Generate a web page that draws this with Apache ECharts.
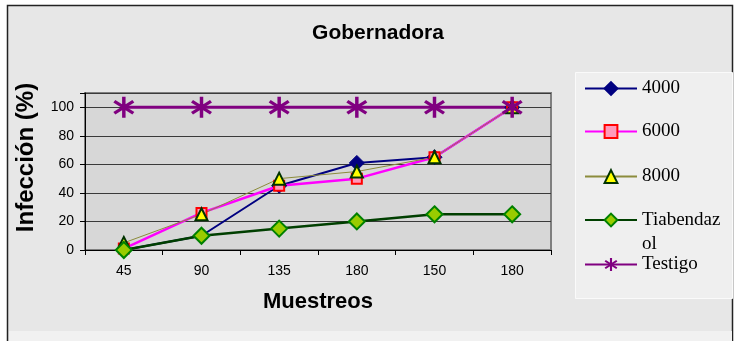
<!DOCTYPE html>
<html>
<head>
<meta charset="utf-8">
<script src="https://cdn.jsdelivr.net/npm/echarts@6/dist/echarts.min.js"></script>
<style>
  html, body { margin: 0; padding: 0; background: #ffffff; }
  #chart { width: 736px; height: 341px; }
</style>
</head>
<body>
<div id="chart"></div>
<script>
// Muestreos (sampling dates) along the x axis
const categories = ['45', '90', '135', '180', '150', '180'];

// Infección (%) per treatment
const s4000 = [0, 10, 45, 61, 65, 100];
const s6000 = [1, 26, 45, 50, 65, 100];
const s8000 = [5, 25, 50, 55, 65, 100];
const sTiabendazol = [0, 10, 15, 20, 25, 25];
const sTestigo = [100, 100, 100, 100, 100, 100];

const yTicks = { min: 0, max: 110, interval: 20 };

// six-spoke star marker built from three filled bars
const asterisk = 'path://M8.5,0 L11.5,0 L11.5,20 L8.5,20 Z ' +
  'M0.95,5.49 L2.67,3.03 L19.05,14.51 L17.33,16.97 Z ' +
  'M2.67,16.97 L0.95,14.51 L17.33,3.03 L19.05,5.49 Z';

const chart = echarts.init(document.getElementById('chart'));

function legendAt(name, top, extra) {
  return Object.assign({
    data: [name],
    orient: 'vertical',
    left: 584,
    top: top,
    itemWidth: 52,
    itemHeight: 16,
    itemGap: 0,
    padding: 0,
    selectedMode: false,
    textStyle: { fontFamily: 'Liberation Serif', fontSize: 19, color: '#000' }
  }, extra || {});
}

chart.setOption({
  animation: false,
  backgroundColor: '#ffffff',
  graphic: [
    {
      type: 'rect', z: -10, silent: true,
      shape: { x: 7.5, y: 5.5, width: 725, height: 345 },
      style: { fill: '#e7e7e7', stroke: '#222', lineWidth: 1.5 }
    },
    {
      type: 'rect', z: -9, silent: true,
      shape: { x: 9, y: 331, width: 723, height: 12 },
      style: { fill: '#f1f1f1' }
    },
    {
      type: 'rect', z: -8, silent: true,
      shape: { x: 575.5, y: 72.5, width: 157, height: 226 },
      style: { fill: '#efefef', stroke: '#fafafa', lineWidth: 1 }
    }
  ],
  title: {
    text: 'Gobernadora',
    left: 373,
    textAlign: 'center',
    top: 18,
    textStyle: { fontFamily: 'Liberation Sans', fontWeight: 'bold', fontSize: 21, color: '#000' }
  },
  legend: [
    legendAt('4000', 79),
    legendAt('6000', 122),
    legendAt('8000', 167),
    legendAt('Tiabendazol', 184, {
      formatter: () => ' \nTiabendaz\nol',
      textStyle: { fontFamily: 'Liberation Serif', fontSize: 19, color: '#000', lineHeight: 24 }
    }),
    legendAt('Testigo', 255)
  ],
  grid: {
    left: 85, top: 93, right: 185, bottom: 91,
    show: true,
    backgroundColor: '#d7d7d7',
    borderColor: '#7f7f7f',
    borderWidth: 2
  },
  xAxis: {
    type: 'category',
    data: categories,
    boundaryGap: true,
    name: 'Muestreos',
    nameLocation: 'middle',
    nameGap: 41,
    nameTextStyle: { fontFamily: 'Liberation Sans', fontWeight: 'bold', fontSize: 22, color: '#000' },
    axisLine: { lineStyle: { color: '#000', width: 1 } },
    axisTick: { show: true, length: 5, lineStyle: { color: '#000' } },
    axisLabel: { fontFamily: 'Liberation Sans', fontSize: 14, color: '#000', margin: 14 },
    splitLine: { show: false }
  },
  yAxis: {
    type: 'value',
    min: yTicks.min,
    max: yTicks.max,
    interval: yTicks.interval,
    name: 'Infección (%)',
    nameLocation: 'middle',
    nameRotate: 90,
    nameGap: 47,
    nameTextStyle: {
      fontFamily: 'Liberation Sans', fontWeight: 'bold', fontSize: 24, color: '#000',
      padding: [0, 0, 0, 28]
    },
    axisLine: { show: true, lineStyle: { color: '#000', width: 1 } },
    axisTick: { show: true, length: 5, lineStyle: { color: '#000' } },
    axisLabel: {
      fontFamily: 'Liberation Sans', fontSize: 14, color: '#000', margin: 11,
      formatter: v => (v > 100 ? '' : String(v))
    },
    splitLine: { show: true, lineStyle: { color: '#3a3a3a', width: 1 } }
  },
  series: [
    {
      name: '4000', type: 'line', data: s4000,
      symbol: 'diamond', symbolSize: 15,
      lineStyle: { color: '#000080', width: 2 },
      itemStyle: { color: '#000080', borderColor: '#000080', borderWidth: 1 }
    },
    {
      name: '6000', type: 'line', data: s6000,
      symbol: 'rect', symbolSize: 10,
      lineStyle: { color: '#ff00ff', width: 2.5 },
      itemStyle: { color: '#ff99bb', borderColor: '#ff0000', borderWidth: 2 }
    },
    {
      name: '8000', type: 'line', data: s8000,
      symbol: 'triangle', symbolSize: 12,
      lineStyle: { color: '#8c8c3c', width: 1 },
      itemStyle: { color: '#ffff00', borderColor: '#003300', borderWidth: 2 }
    },
    {
      name: 'Tiabendazol', type: 'line', data: sTiabendazol,
      symbol: 'diamond', symbolSize: 16,
      lineStyle: { color: '#003f00', width: 2.5 },
      itemStyle: { color: '#99cc00', borderColor: '#008000', borderWidth: 2 }
    },
    {
      name: 'Testigo', type: 'line', data: sTestigo,
      symbol: asterisk, symbolSize: 21,
      lineStyle: { color: '#800080', width: 3 },
      itemStyle: { color: '#800080', borderColor: '#800080', borderWidth: 0 }
    }
  ]
});
</script>
</body>
</html>
